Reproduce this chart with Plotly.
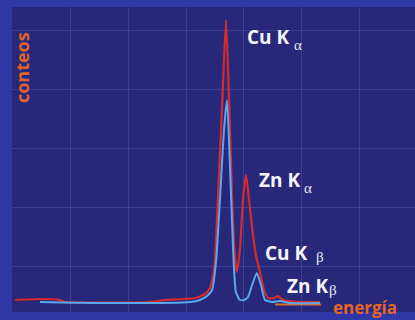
import plotly.graph_objects as go

# Energy axis (keV) and counts (arbitrary units)
energy_red = [1.83, 2.56, 3.15, 3.30, 5.81, 6.25, 7.14, 7.43, 7.58, 7.70, 7.81, 7.93,
              8.05, 8.14, 8.23, 8.32, 8.37, 8.46, 8.55, 8.64, 8.73, 8.82, 8.93, 9.05,
              9.17, 9.29, 9.47, 9.58, 9.73, 10.23, 10.82]
counts_red = [50, 60, 50, 30, 30, 50, 70, 110, 170, 350, 1050, 1950,
              2850, 2050, 1050, 450, 330, 550, 1050, 1300, 1050, 770, 500, 330,
              150, 70, 70, 90, 50, 30, 30]

energy_blue = [2.56, 4.33, 6.99, 7.28, 7.49, 7.64, 7.76, 7.87, 7.99, 8.08, 8.17, 8.26,
               8.34, 8.46, 8.58, 8.70, 8.82, 8.96, 9.08, 9.20, 9.41, 9.64, 9.94, 10.82]
counts_blue = [30, 20, 30, 50, 90, 150, 450, 1050, 1750, 2050, 1350, 550,
               130, 50, 50, 80, 200, 320, 200, 50, 30, 40, 20, 20]

energy_orange = [9.50, 10.85]
counts_orange = [5, 5]

# Peak labels
label_main = ["Cu K", "Zn K", "Cu K", "Zn K"]
label_greek = ["α", "α", "β", "β"]
label_x = [8.61, 8.96, 9.14, 9.78]
label_y = [2680, 1250, 520, 190]
greek_x = [10.17, 10.46, 10.82, 11.22]
greek_y = [2600, 1170, 480, 150]

fig = go.Figure()
fig.add_trace(go.Scatter(x=energy_orange, y=counts_orange, mode="lines",
                         line=dict(color="#d8702a", width=2), hoverinfo="skip"))
fig.add_trace(go.Scatter(x=energy_red, y=counts_red, mode="lines",
                         line=dict(color="#d82a2a", width=2.2, shape="spline", smoothing=0.5)))
fig.add_trace(go.Scatter(x=energy_blue, y=counts_blue, mode="lines",
                         line=dict(color="#5aa8f0", width=2, shape="spline", smoothing=0.5)))

annotations = []
for m, g, x, y, gx, gy in zip(label_main, label_greek, label_x, label_y, greek_x, greek_y):
    annotations.append(dict(x=x, y=y, xref="x", yref="y", text=m, showarrow=False,
                            xanchor="left", yanchor="middle",
                            font=dict(family="Open Sans", size=19, color="#f4f4fa", weight="bold")))
    annotations.append(dict(x=gx, y=gy, xref="x", yref="y", text=g, showarrow=False,
                            xanchor="center", yanchor="middle", borderpad=0,
                            font=dict(family="Liberation Serif", size=15, color="#e8e8f4")))

annotations.append(dict(x=0.025, y=0.80, xref="paper", yref="paper", text="conteos",
                        textangle=-90, showarrow=False, xanchor="center", yanchor="middle",
                        font=dict(family="Open Sans", size=18, color="#e0642a", weight="bold")))
annotations.append(dict(x=0.876, y=-0.026, xref="paper", yref="paper", text="energía",
                        showarrow=False, xanchor="center", yanchor="bottom", borderpad=0,
                        font=dict(family="Open Sans", size=17, color="#e0642a", weight="bold")))

fig.update_layout(
    width=415, height=320,
    margin=dict(l=12, r=0, t=7, b=8),
    paper_bgcolor="#2f38a6",
    plot_bgcolor="#28287a",
    showlegend=False,
    annotations=annotations,
    xaxis=dict(range=[1.737, 13.625], showticklabels=False, ticks="", zeroline=False,
               showgrid=True, gridcolor="rgba(95,95,180,0.4)", gridwidth=1,
               tick0=3.45, dtick=1.71, showline=False),
    yaxis=dict(range=[-70, 2980], showticklabels=False, ticks="", zeroline=False,
               showgrid=True, gridcolor="rgba(95,95,180,0.4)", gridwidth=1,
               tick0=390, dtick=590, showline=False),
)

fig.write_html("out.html",
               config={"displayModeBar": False},
               post_script="document.body.style.margin='0';"
                           "document.body.style.background='#2f38a6';"
                           "document.body.style.overflow='hidden';")
